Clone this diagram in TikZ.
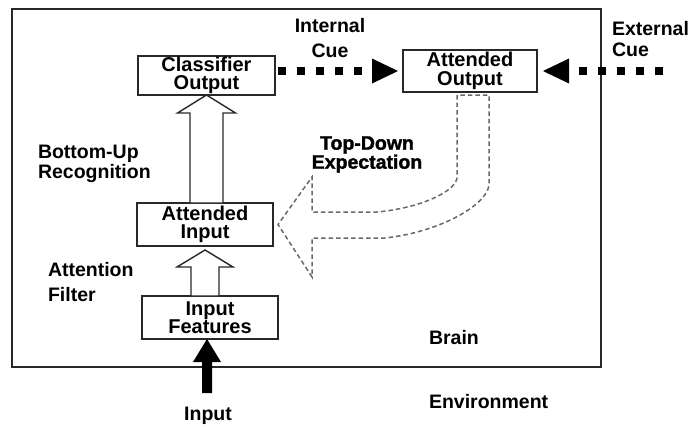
\documentclass[tikz,border=0pt]{standalone}
\usepackage{fontspec}
\setmainfont{Liberation Sans}
\newfontfamily\heavyfont{Liberation Sans}[BoldFeatures={FakeBold=1.5}]
\usetikzlibrary{calc,arrows.meta}
\definecolor{ink}{RGB}{40,40,40}
\definecolor{dashgrey}{RGB}{105,105,105}

\begin{document}
\begin{tikzpicture}[x=1pt,y=-1pt,
  every node/.style={inner sep=0pt, outer sep=0pt, text=black},
  txt/.style={align=left, font=\bfseries\fontsize{19.5}{21}\selectfont},
  region/.style={draw=ink, line width=2pt, minimum width=589pt, minimum height=358pt},
  stage/.style={draw=ink, line width=1.4pt, fill=white, minimum width=136pt,
    minimum height=43pt, align=center, font=\bfseries\fontsize{20}{18.5}\selectfont},
  hollow/.style={draw=ink, line width=1.4pt, fill=white, line join=miter},
  solidtip/.style={fill=black},
  cue/.style={line width=8pt, line cap=butt,
    -{Triangle[length=26pt,width=25pt,line width=0pt]}},
  topdown/.style={draw=dashgrey, line width=1.5pt, dash pattern=on 4.5pt off 3pt}
]
\useasboundingbox (0,0) rectangle (695,426);

% brain region
\node[region] (brain) at (306.5,188) {};

% processing stages
\node[stage, minimum width=137pt, minimum height=39pt] (cls) at (206.5,75.5) {Classifier\\Output};
\node[stage, minimum width=134pt, minimum height=42pt] (aout) at (470,71) {Attended\\Output};
\node[stage] (ain) at (205,224.5) {Attended\\Input};
\node[stage] (inf) at (210,317.5) {Input\\Features};

% free ends of the external arrows
\coordinate (ext) at (663,71);
\coordinate (src) at (207,393);

% labels
\node[txt, align=center, font=\bfseries\fontsize{19.5}{25}\selectfont] (icue) at (330,38.5) {Internal\\Cue};
\node[txt, anchor=west, font=\bfseries\fontsize{19.5}{21}\selectfont] (ecue) at (612,39.5) {External\\Cue};
\node[txt, anchor=west, font=\bfseries\fontsize{19.5}{19.5}\selectfont] (bu) at (38,164) {Bottom-Up\\Recognition};
\node[txt, anchor=west, font=\bfseries\fontsize{19.5}{25}\selectfont] (af) at (48,282) {Attention\\Filter};
\node[txt, align=center, font=\heavyfont\bfseries\fontsize{19.5}{19}\selectfont] (td) at (367,154.5) {Top-Down\\Expectation};
\node[txt, anchor=base west] (brainlbl) at (429,344) {Brain};
\node[txt, anchor=base west] (envlbl) at (429,408) {Environment};
\node[txt, anchor=base] (inlbl) at (208,420) {Input};

% bottom-up recognition arrow
\draw[hollow] let \p1=(cls.south), \p2=(ain.north) in
  (\p1) -- (\x1+29pt,\y1-18pt) -- (\x1+16.5pt,\y1-18pt) -- (\x1+16.5pt,\y2)
  -- (\x1-16.5pt,\y2) -- (\x1-16.5pt,\y1-18pt) -- (\x1-29pt,\y1-18pt) -- cycle;

% attention filter arrow
\draw[hollow] let \p1=(ain.south), \p2=(inf.north) in
  (\x1,\y1-4pt) -- (\x1+28pt,\y1-21pt) -- (\x1+14pt,\y1-21pt) -- (\x1+14pt,\y2)
  -- (\x1-14pt,\y2) -- (\x1-14pt,\y1-21pt) -- (\x1-28pt,\y1-21pt) -- cycle;

% input arrow
\fill[solidtip] let \p1=(inf.south), \p2=(src) in
  (\x2,\y1) -- (\x2+14pt,\y1-23pt) -- (\x2+5pt,\y1-23pt) -- (\x2+5pt,\y2)
  -- (\x2-5pt,\y2) -- (\x2-5pt,\y1-23pt) -- (\x2-14pt,\y1-23pt) -- cycle;

% internal and external cues
\draw[cue, dash pattern=on 8pt off 11pt, dash phase=16pt, shorten >=5pt]
  (cls.east |- aout.west) -- (aout.west);
\draw[cue, dash pattern=on 8pt off 11pt, shorten >=6pt]
  (ext) -- (aout.east);

% top-down expectation arrow
\draw[topdown]
  ($(aout.south)+(-13,3)$) -- ($(aout.south)+(-13,86)$)
  .. controls ($(aout.south)+(-15,100)$) and ($(aout.south)+(-50,116)$) .. ($(aout.south)+(-93,120)$)
  -- ($(ain.east)+(39,-12.5)$) -- ($(ain.east)+(39,-47.5)$)
  -- ($(ain.east)+(5,0)$)
  -- ($(ain.east)+(39,52.5)$) -- ($(ain.east)+(39,13.5)$)
  -- ($(aout.south)+(-85,146)$)
  .. controls ($(aout.south)+(-30,140)$) and ($(aout.south)+(17,113)$) .. ($(aout.south)+(19,93)$)
  -- ($(aout.south)+(19,3)$) -- cycle;
\end{tikzpicture}
\end{document}
